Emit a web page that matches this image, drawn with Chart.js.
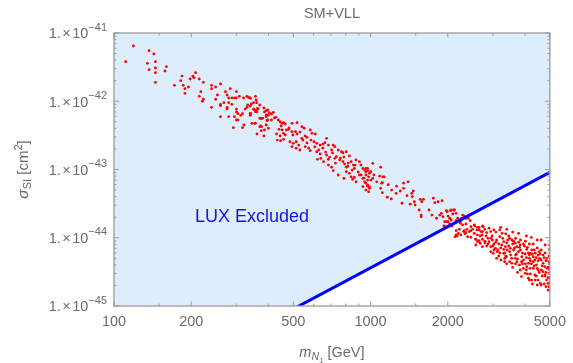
<!DOCTYPE html>
<html>
<head>
<meta charset="utf-8">
<script src="https://cdn.jsdelivr.net/npm/chart.js@4"></script>
<style>
  html, body { margin: 0; padding: 0; background: #fff; }
</style>
</head>
<body>
<canvas id="myChart" width="573" height="363"></canvas>
<script>
"use strict";

// scan points: [m_N1 in GeV, sigma_SI in units of 1e-45 cm^2]
const SIGMA_UNIT = 1e-45;
const scanPoints = [
  [119,6450],[111,3800],[137,5500],[143,4920],[145,3800],[135,3600],[145,3070],[137,2900],[145,2620],[160,3210],
  [158,2775],[145,1895],[172,1713],[184,2340],[182,2000],[208,2620],[203,2340],[205,2214],[198,2118],[195,1617],
  [186,1713],[189,1528],[189,1306],[215,2118],[223,1895],[218,1380],[215,1182],[223,1069],[221,1000],[240,1713],
  [240,1528],[249,1617],[260,1790],[253,1235],[240,815],[249,1069],[260,902],[260,861],[272,1380],[284,1528],
  [276,1235],[280,1117],[288,1117],[295,1117],[300,1117],[300,1380],[308,1182],[320,1117],[330,1182],[340,1117],
  [356,1182],[260,594],[280,594],[268,952],[280,952],[288,902],[276,815],[276,769],[300,769],[300,697],
  [304,657],[312,622],[317,657],[295,594],[300,531],[304,531],[321,449],[317,410],[292,410],[325,769],
  [330,815],[340,852],[350,952],[350,769],[356,727],[364,769],[360,697],[345,475],[356,475],[340,657],
  [370,562],[376,562],[370,424],[376,424],[386,697],[392,594],[397,531],[392,449],
  [334,1140],[340,1105],[332,881],[343,912],[360,952],[351,762],[356,703],[363,788],[358,727],[340,666],
  [340,622],[392,727],[403,680],[418,689],[392,629],[400,629],[373,562],[380,562],[395,519],[411,531],
  [427,582],[354,475],[373,434],[400,402],[375,370],[386,379],[361,331],[384,310],[444,501],[452,475],
  [458,485],[494,475],[517,485],[540,424],[551,402],[440,388],[452,379],[458,339],[470,379],[465,320],
  [480,388],[494,358],[510,358],[517,331],[430,331],[444,310],[433,270],[446,264],[458,277],[485,255],
  [500,242],[513,255],[525,228],[494,216],[513,205],[530,193],[540,286],[556,310],[565,296],[582,379],
  [591,339],[609,331],[556,216],[574,205],[582,189],[602,255],[617,242],[636,228],[617,182],[636,169],
  [621,141],[640,146],[652,205],[664,247],[674,286],[685,228],[674,163],[685,141],[705,193],[715,228],
  [726,216],[656,130],[685,116],[705,108],[726,146],[736,154],[715,96],[748,83],[748,193],[770,182],
  [781,176],[804,182],[827,158],[758,138],[781,130],[792,120],[804,108],[816,112],[840,130],[857,116],
  [865,104],[878,138],[827,88],[840,78],[852,72],[865,77],[878,66],[905,130],[918,116],[933,104],
  [948,98],[959,93],[974,104],[905,83],[933,74],[948,66],[974,70],[933,56],[974,57],[990,53],
  [1020,123],[1002,93],[1020,74],[1095,108],[1112,64],[1130,78],[787,74],[804,93],
  [358,1043],[370,881],[384,796],[397,745],[411,650],[422,569],[437,531],[448,434],[465,464],[481,406],
  [498,320],[531,354],[545,270],[565,245],[586,270],[607,214],[628,193],[652,236],[668,180],[692,152],
  [711,175],[730,124],[763,147],[787,152],[818,124],[848,98],[870,116],[895,92],[918,83],[943,75],
  [1030,83],[1057,66],[1085,80],[1208,50],[1263,57],[1428,31],
  [959,104],[974,96],[990,88],[959,83],[983,78],[1002,70],[959,63],[974,59],[990,56],[959,50],
  [983,47.3],[1117,78],[1105,63],[1172,60],[1095,53],[1112,45.7],[1162,39.2],[1205,37],[1258,44.8],[1306,48.4],
  [1345,63],[1400,66],[1345,53],[1326,32],[1387,41.3],[1447,44.8],[1455,40],[1467,48.4],[1480,33.7],[1492,30.2],
  [1561,36.6],[1584,33.7],[1608,36.6],[1547,25.5],[1690,25.5],[1757,38],[1780,32.6],[1833,33.7],[1900,34.9],[1575,21.5],
  [1575,20.3],[1735,21.5],[1808,19.3],[1860,21.5],[1888,22.8],[1915,20.3],[1974,24.9],[2062,25.5],[2124,25.5],[2092,22.3],
  [2155,22.8],[1945,17.2],[2005,17.2],[2034,15.4],[2062,18.2],[2075,14.9],[1974,14.5],[1932,14.9],[2185,19.3],[2250,17.8],
  [2285,21.5],[2355,19.3],[2404,20.8],[2447,17.8],[2155,11.0],[2136,10.35],[2250,11.0],[2320,12.7],[2355,11.9],[2220,13.3],
  [2285,15.4],[2355,15.9],[2390,10.35],[2462,12.7],[2462,10.15],[2535,11.6],[2572,9.5],[2610,11.0],[2535,15.4],[2610,14.2],
  [2650,13.0],[2730,14.9],[2730,12.3],[2572,7.83],[2650,9.06],[2730,7.4],
  [1990,24.1],[2050,24.9],[2110,25.5],[2005,20.8],[2034,19.3],[1974,17.2],[2034,15.9],[2155,17.8],[2220,18.2],[2267,19.3],
  [2240,16.3],[2320,20.8],[2404,19.3],[2155,12.7],[2200,11.6],[2175,10.6],[2305,12.3],[2335,11.4],[2376,13.3],[2425,12.3],
  [2462,14.5],[2500,13.3],[2550,14.9],[2597,13.0],[2650,14.2],[2690,12.3],[2750,14.5],[2790,13.3],[2837,11.9],[2896,13.8],
  [2940,12.3],[3025,13.0],[2572,9.5],[2610,8.75],[2675,8.3],[2730,9.5],[2790,8.45],[2837,7.57],[2896,8.75],[2940,7.4],
  [2985,9.27],[3025,8.1],[3070,7.0],[3115,6.25],[3190,10.35],[3255,11.6],[3305,8.75],[3355,7.4],[3405,6.62],[3455,10.6],
  [3555,9.27],[2940,6.25],[3005,5.92],[3225,4.72],[3305,5.92],[3385,5.27],[3505,7.0],[3610,6.62],[3665,8.3],[3720,7.4],
  [3775,6.25],[3830,7.83],[3665,5.0],[3720,4.46],[3807,3.99],[3885,5.27],[3945,4.72],[4005,5.78],[4065,6.77],[4125,4.22],
  [4160,5.0],[4185,5.92],[4245,6.62],[4307,5.27],[4370,4.72],[4430,3.99],[4500,5.58],[4560,5.0],[4630,3.37],[4705,4.22],
  [4705,3.18],[4780,2.85],[4850,2.40],[4920,2.15],[4963,1.92],[4780,3.77],[4876,3.57],[4963,3.01],[4990,2.55],[3830,3.37],
  [4005,3.01],[4125,2.55],[4245,2.40],[4370,2.85],[4500,2.40],[4590,2.15],[3330,4.46],[3555,4.22],[4065,3.77],[4185,3.57],
  [4307,3.57],
  [3100,9.27],[3160,8.1],[3215,7.1],[3275,9.8],[3335,6.0],[3395,8.4],[3455,7.57],[3515,5.58],[3580,8.1],[3640,7.1],
  [3705,5.78],[3775,8.6],[3840,6.62],[3910,5.95],[3980,7.57],[4050,5.1],[4125,6.0],[4195,4.6],[4270,5.78],[4345,6.62],
  [4425,5.1],[4500,4.6],[4585,5.78],[4665,3.87],[4750,5.1],[4830,4.6],[4920,3.67],[4990,4.15],[3910,4.15],[4050,3.37],
  [4195,2.95],[4345,3.87],[4500,3.37],[4665,2.75],[4830,3.1],[4920,2.6],[4425,2.75],[4270,2.1],[4750,2.1],[4990,1.71],
  [3580,3.67],[3740,3.1],[3875,2.7],[3395,4.15],[3160,5.4],[2975,10.6],[2870,9.8],[2820,10.6],[2720,11.0],[3079,12.1],
  [3190,13.0],[3364,11.4],[3485,9.8],[3675,9.8],[3840,9.27],[4015,8.9],[4160,8.1],[4307,8.1],[4463,7.1],[4624,6.62],
  [4790,6.0],[4963,5.4],
  [2675,10.6],[2795,8.9],[2870,8.1],[2948,9.8],[3000,7.57],[3079,8.6],[3134,6.62],[3190,6.0],[3247,7.83],[3305,6.77],
  [3364,5.4],[3424,9.27],[3485,6.25],[3547,5.0],[3610,8.9],[3675,5.58],[3740,4.9],[3807,7.25],[3875,4.46],[3945,8.1],
  [4015,4.15],[4087,7.25],[4160,5.58],[4234,4.15],[4307,4.46],[4385,5.95],[4463,3.57],[4543,6.25],[4624,4.72],[4705,5.58],
  [4790,2.75],[4876,5.0],[4963,4.46],[4543,3.1],[4385,2.40],[4087,2.95],[3945,3.57],[3675,4.15],[3485,4.46],[3335,5.0],
  [3100,5.0],[3025,6.62],[4624,2.03],[4830,1.92],[4920,1.71],[4463,2.03],[4160,2.40],[4990,2.2],[4990,3.4],[4990,6.62],
  [4990,7.83],[4790,7.83],[4624,9.27],[4463,9.27],[4234,10.1],[4050,10.6],[3775,11.6],[3580,12.1],[3395,13.3],[3215,14.2]
];

// LUX bound (straight line on log-log)
const luxMass = [100, 5000];
const luxSigma = [3.6e-47, 9.1e-44];
const luxLabel = "LUX Excluded";
const luxLabelAt = [345, 2.0e-44];

// axes
const xMin = 100, xMax = 5000;
const yMin = 1e-45, yMax = 1e-41;
const xLabelValues = [100, 200, 500, 1000, 2000, 5000];
const xMinorValues = [150, 300, 400, 600, 700, 800, 900, 1500, 3000, 4000];
const yExponents = [-45, -44, -43, -42, -41];
const yMinorMultipliers = [2, 3, 4, 5, 6, 7, 8, 9];

const chartTitle = "SM+VLL";

const FONT = '"Liberation Sans", Arial, sans-serif';
const GRAY = "#6b6b6b";
const FRAME = "#9a9a9a";

const decorations = {
  id: "decorations",
  afterDatasetsDraw(chart) {
    const { ctx, chartArea: a, scales: { x, y } } = chart;
    ctx.save();
    ctx.strokeStyle = FRAME;
    ctx.lineWidth = 1.3;
    ctx.strokeRect(a.left, a.top, a.right - a.left, a.bottom - a.top);

    const seg = (x1, y1, x2, y2) => {
      ctx.beginPath(); ctx.moveTo(x1, y1); ctx.lineTo(x2, y2); ctx.stroke();
    };
    ctx.lineWidth = 1;
    xLabelValues.concat(xMinorValues).forEach(v => {
      const px = x.getPixelForValue(v);
      const len = xLabelValues.includes(v) ? 4.5 : 2.5;
      seg(px, a.bottom, px, a.bottom - len);
      seg(px, a.top, px, a.top + len);
    });
    yExponents.forEach(e => {
      const py = y.getPixelForValue(Math.pow(10, e));
      seg(a.left, py, a.left + 5, py);
      seg(a.right, py, a.right - 5, py);
      if (e === yExponents[yExponents.length - 1]) return;
      yMinorMultipliers.forEach(k => {
        const pm = y.getPixelForValue(k * Math.pow(10, e));
        seg(a.left, pm, a.left + 2.5, pm);
        seg(a.right, pm, a.right - 2.5, pm);
      });
    });
    ctx.restore();
  },
  afterDraw(chart) {
    const { ctx, chartArea: a, scales: { x, y } } = chart;
    ctx.save();
    ctx.fillStyle = GRAY;
    ctx.textBaseline = "alphabetic";
    ctx.textAlign = "left";

    // y tick labels: 1.×10^-n
    const mainFont = "14.5px " + FONT;
    const supFont = "11px " + FONT;
    yExponents.forEach(e => {
      const py = y.getPixelForValue(Math.pow(10, e));
      const parts = ["1.", "×", "10"];
      const sup = "\u2212" + Math.abs(e);
      ctx.font = supFont;
      const wSup = ctx.measureText(sup).width;
      ctx.font = mainFont;
      const gap = 1.5;
      const widths = parts.map(p => ctx.measureText(p).width);
      const wMain = widths.reduce((s, w) => s + w, 0) + gap * 2;
      let cx = 107 - wSup - wMain;
      parts.forEach((p, i) => { ctx.fillText(p, cx, py + 5.3); cx += widths[i] + gap; });
      ctx.font = supFont;
      ctx.fillText(sup, 107 - wSup, py - 2.3);
    });

    // title
    ctx.font = "14.5px " + FONT;
    ctx.textAlign = "center";
    ctx.fillText(chartTitle, (a.left + a.right) / 2, 17.5);

    // x title: m_{N_1} [GeV]
    const xt = [
      { t: "m", f: "italic 14.5px " + FONT, dy: 0 },
      { t: "N", f: "italic 10.5px " + FONT, dy: 3 },
      { t: "1", f: "8px " + FONT, dy: 5.5 },
      { t: " [GeV]", f: "14.5px " + FONT, dy: 0 }
    ];
    drawRun(ctx, xt, (a.left + a.right) / 2, 357);

    // y title: sigma_SI [cm^2]
    ctx.save();
    ctx.translate(28, (a.top + a.bottom) / 2);
    ctx.rotate(-Math.PI / 2);
    const yt = [
      { t: "\u03c3", f: "italic 15.5px " + FONT, dy: 0 },
      { t: "SI", f: "11px " + FONT, dy: 3 },
      { t: " [cm", f: "15px " + FONT, dy: 0 },
      { t: "2", f: "11px " + FONT, dy: -6.5 },
      { t: "]", f: "15px " + FONT, dy: 0 }
    ];
    drawRun(ctx, yt, 0, 0);
    ctx.restore();

    // LUX label
    ctx.fillStyle = "rgb(20,20,235)";
    ctx.font = "18px " + FONT;
    ctx.textAlign = "center";
    ctx.textBaseline = "middle";
    ctx.fillText(luxLabel, x.getPixelForValue(luxLabelAt[0]), y.getPixelForValue(luxLabelAt[1]));
    ctx.restore();
  }
};

function drawRun(ctx, run, cx, baseY) {
  ctx.textAlign = "left";
  ctx.textBaseline = "alphabetic";
  let total = 0;
  run.forEach(r => { ctx.font = r.f; r.w = ctx.measureText(r.t).width; total += r.w; });
  let px = cx - total / 2;
  run.forEach(r => { ctx.font = r.f; ctx.fillText(r.t, px, baseY + r.dy); px += r.w; });
}

const data = {
  datasets: [
    {
      type: "line",
      label: "LUX",
      data: luxMass.map((m, i) => ({ x: m, y: luxSigma[i] })),
      borderColor: "rgb(0,0,255)",
      borderWidth: 3,
      pointRadius: 0,
      fill: "end",
      backgroundColor: "rgb(221,237,252)",
      clip: 0,
      order: 0
    },
    {
      type: "scatter",
      label: "scan",
      data: scanPoints.map(p => ({ x: p[0], y: p[1] * SIGMA_UNIT })),
      pointRadius: 1.4,
      pointBorderWidth: 0,
      pointBackgroundColor: "rgb(255,0,0)",
      order: 1
    }
  ]
};

const config = {
  type: "scatter",
  data: data,
  options: {
    responsive: false,
    animation: false,
    events: [],
    layout: { padding: { left: 114, right: 16, top: 33, bottom: 0 } },
    plugins: {
      legend: { display: false },
      tooltip: { enabled: false },
      filler: { drawTime: "beforeDatasetsDraw" }
    },
    scales: {
      x: {
        type: "logarithmic",
        position: "bottom",
        min: xMin,
        max: xMax,
        grid: { display: false, drawTicks: false },
        border: { display: false },
        afterBuildTicks: scale => { scale.ticks = xLabelValues.map(v => ({ value: v })); },
        afterFit: scale => { scale.height = 57; },
        ticks: {
          autoSkip: false,
          maxRotation: 0,
          padding: 7,
          color: GRAY,
          font: { family: FONT, size: 14.5 },
          callback: v => String(v)
        }
      },
      y: {
        type: "logarithmic",
        min: yMin,
        max: yMax,
        display: false
      }
    }
  },
  plugins: [decorations]
};

const myChart = new Chart(document.getElementById("myChart"), config);
</script>
</body>
</html>
